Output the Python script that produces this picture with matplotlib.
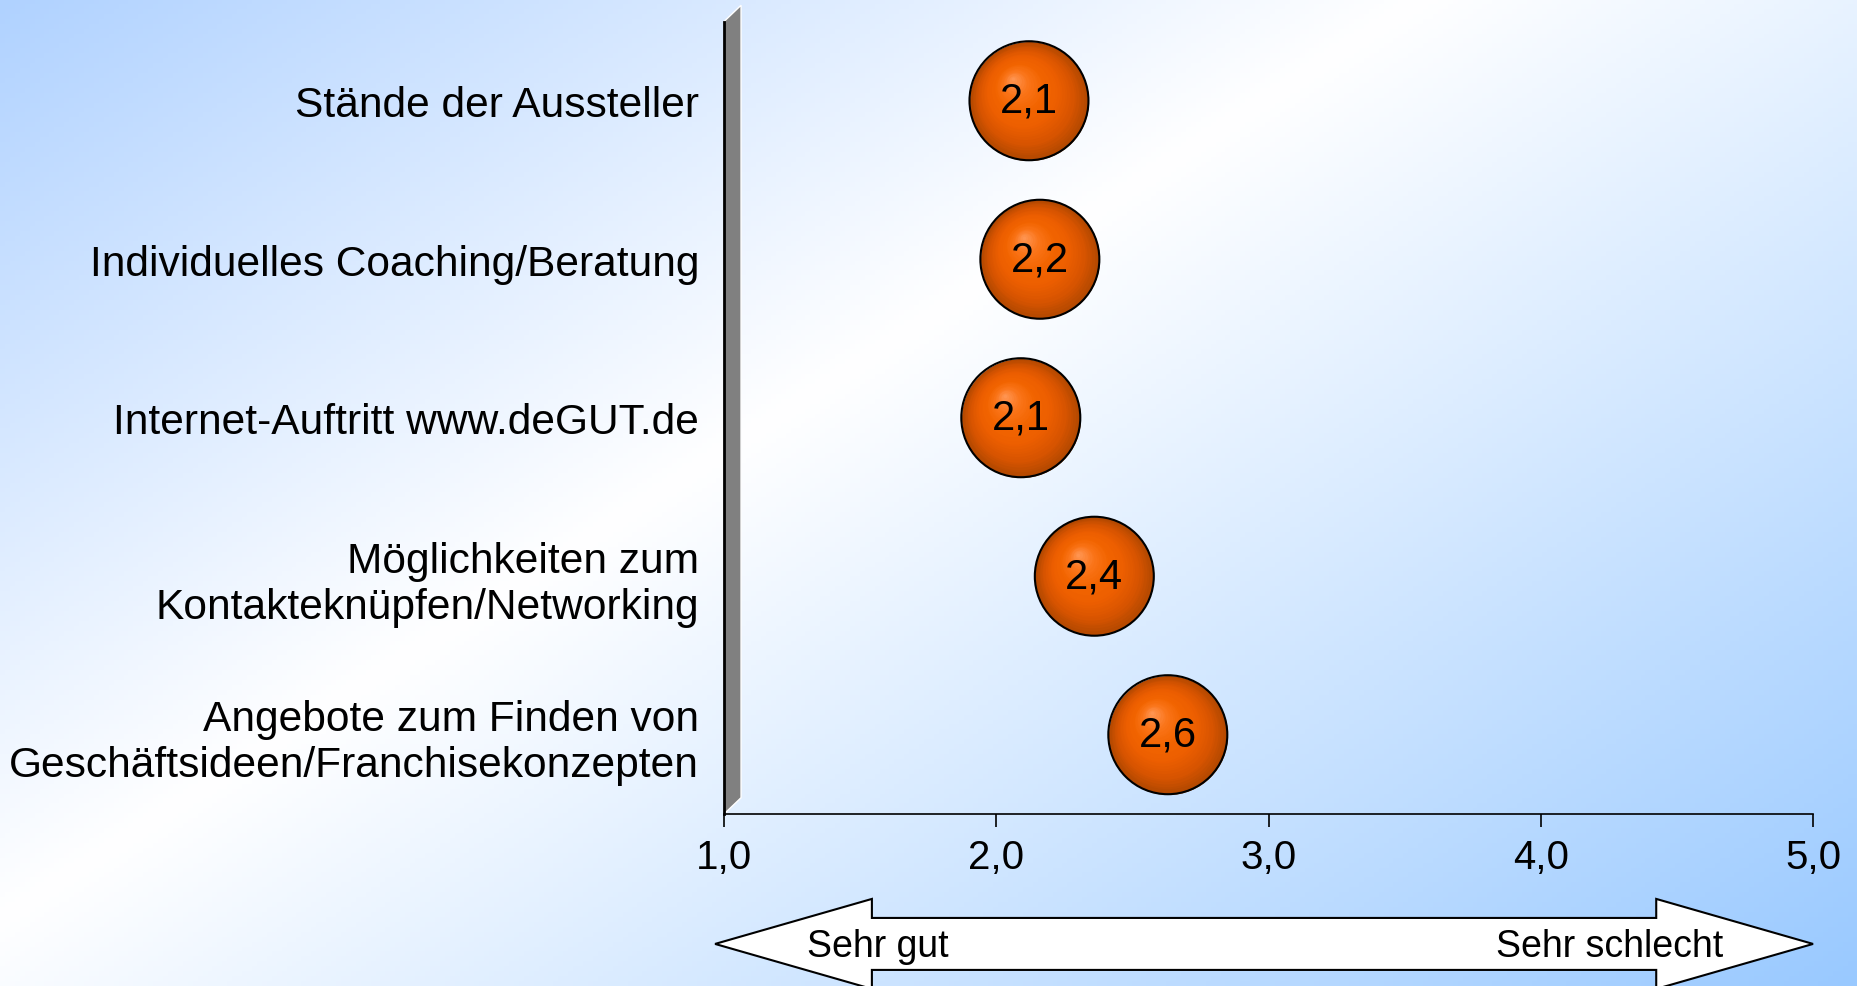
import numpy as np
import matplotlib
matplotlib.use("Agg")
from matplotlib import pyplot as plt
from matplotlib import transforms
from matplotlib.colors import LinearSegmentedColormap, to_rgb
from matplotlib.patches import Polygon

plt.rcParams['font.family'] = ['Liberation Sans', 'DejaVu Sans']

# data (bottom to top)
categories = ["Angebote zum Finden von\nGeschäftsideen/Franchisekonzepten",
              "Möglichkeiten zum\nKontakteknüpfen/Networking",
              "Internet-Auftritt www.deGUT.de",
              "Individuelles Coaching/Beratung",
              "Stände der Aussteller"]
values = [2.63, 2.36, 2.09, 2.16, 2.12]
value_labels = ["2,6", "2,4", "2,1", "2,2", "2,1"]
x_ticks = [1, 2, 3, 4, 5]
x_tick_labels = ["1,0", "2,0", "3,0", "4,0", "5,0"]

fig = plt.figure(figsize=(18.58, 9.87), dpi=100)

# background gradient (blue top-left / bottom-right, white across the middle)
bg = fig.add_axes([0, 0, 1, 1], zorder=-10)
h, w = 200, 376
yy, xx = np.mgrid[0:h, 0:w]
t = 0.55 * xx / (w - 1) + 0.45 * yy / (h - 1)
c0 = np.array(to_rgb('#b0d2ff'))
cw = np.array([1.0, 1.0, 1.0])
c1 = np.array(to_rgb('#99c9ff'))
f = np.clip(t / 0.42, 0, 1)[..., None]
img_l = c0 + (cw - c0) * f
f2 = np.clip((t - 0.42) / 0.58, 0, 1)[..., None]
img_r = cw + (c1 - cw) * f2
img = np.where((t < 0.42)[..., None], img_l, img_r)
bg.imshow(img, aspect='auto', extent=[0, 1, 0, 1])
bg.axis('off')

ax = fig.add_axes([0.3897, 0.1743, 0.5861, 0.8029])
ax.patch.set_alpha(0)
ax.set_xlim(1, 5)
ax.set_ylim(0, 5)
ypos = np.arange(len(categories)) + 0.5

# grey 3D wall behind the y axis
dx, dy = 0.0156, 0.0205
wall = Polygon([(0, 0), (dx, dy), (dx, 1 + dy), (0, 1)], closed=True,
               transform=ax.transAxes, facecolor='#808080', edgecolor='white',
               linewidth=1.0, clip_on=False, zorder=1)
ax.add_patch(wall)

# bubbles with radial shading
cmap = LinearSegmentedColormap.from_list('ball', ['#b24800', '#d85400', '#ec5e00', '#f26400', '#fa7418', '#ff9450'])
size = 7340
n = 32
for i in range(n):
    frac = 1 - i / n
    tr = transforms.offset_copy(ax.transData, fig=fig, x=-(1 - frac) * 12,
                                y=(1 - frac) * 16, units='points')
    ax.scatter(values, ypos, s=size * frac ** 2, color=cmap(i / (n - 1)),
               linewidths=0, transform=tr, zorder=3)
ax.scatter(values, ypos, s=size, facecolor='none', edgecolor='black', linewidths=1.5, zorder=4)
for v, y, lab in zip(values, ypos, value_labels):
    ax.text(v, y, lab, ha='center', va='center', fontsize=30, zorder=5)

ax.set_xticks(x_ticks)
ax.set_xticklabels(x_tick_labels, fontsize=29)
ax.set_yticks(ypos)
ax.set_yticklabels(categories, fontsize=30.6)
ax.tick_params(axis='x', direction='out', length=9, width=1.2, pad=8)
ax.tick_params(axis='y', length=0, pad=18)
for s in ['top', 'right']:
    ax.spines[s].set_visible(False)
ax.spines['left'].set_linewidth(2)
ax.spines['bottom'].set_linewidth(1.2)
ax.spines['left'].set_zorder(2)

# double arrow under the axis
blend = transforms.blended_transform_factory(ax.transData, ax.transAxes)
ax_l, ax_r = 0.967, 5.0
head = 0.576
yc, sh, hh = -0.164, 0.0328, 0.0568
arrow = Polygon([(ax_l, yc), (ax_l + head, yc + hh), (ax_l + head, yc + sh),
                 (ax_r - head, yc + sh), (ax_r - head, yc + hh), (ax_r, yc),
                 (ax_r - head, yc - hh), (ax_r - head, yc - sh),
                 (ax_l + head, yc - sh), (ax_l + head, yc - hh)], closed=True,
                transform=blend, facecolor='white', edgecolor='black',
                linewidth=1.5, clip_on=False)
ax.add_patch(arrow)
ax.text(1.305, yc - 0.003, "Sehr gut", transform=blend, ha='left', va='center', fontsize=27)
ax.text(4.67, yc - 0.003, "Sehr schlecht", transform=blend, ha='right', va='center', fontsize=27)

fig.savefig('out.png', dpi=100)
